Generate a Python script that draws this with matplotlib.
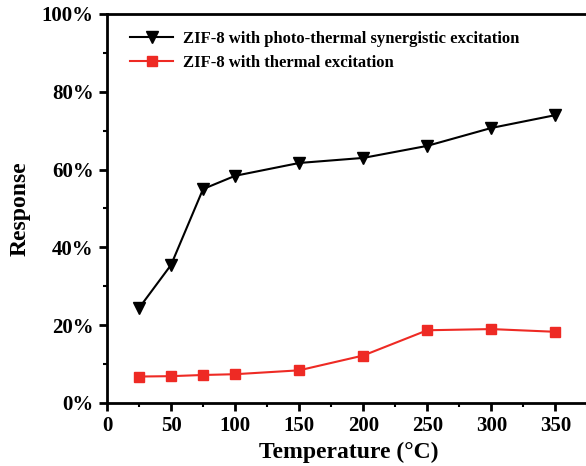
import numpy as np
import matplotlib.pyplot as plt
from matplotlib.ticker import MultipleLocator, PercentFormatter

temps = [25, 50, 75, 100, 150, 200, 250, 300, 350]
photo_thermal = [24.4, 35.5, 55.0, 58.4, 61.7, 63.0, 66.1, 70.7, 74.0]
thermal = [6.8, 6.9, 7.2, 7.4, 8.4, 12.2, 18.7, 19.0, 18.3]

label_photo = "ZIF-8 with photo-thermal synergistic excitation"
label_thermal = "ZIF-8 with thermal excitation"

plt.rcParams['font.family'] = ['Liberation Serif', 'DejaVu Serif']
plt.rcParams['font.weight'] = 'bold'

fig = plt.figure(figsize=(5.86, 4.66), dpi=100)
# the original picture is cropped on the right, so the right spine sits off-canvas
ax = fig.add_axes([0.1826, 0.1352, 0.8242, 0.8348])

ax.plot(temps, photo_thermal, color='black', marker='v', markersize=8, linewidth=1.5, label=label_photo)
ax.plot(temps, thermal, color='#ee2a24', marker='s', markersize=7, linewidth=1.5, label=label_thermal)

ax.set_xlim(0, 377)
ax.set_ylim(0, 100)
ax.xaxis.set_major_locator(MultipleLocator(50))
ax.xaxis.set_minor_locator(MultipleLocator(25))
ax.yaxis.set_major_locator(MultipleLocator(20))
ax.yaxis.set_minor_locator(MultipleLocator(10))
ax.yaxis.set_major_formatter(PercentFormatter(decimals=0))

ax.tick_params(which='major', direction='out', length=6, width=2, labelsize=15)
ax.tick_params(which='minor', direction='out', length=3, width=1.5)
for lbl in ax.get_xticklabels() + ax.get_yticklabels():
    lbl.set_fontweight('bold')
for s in ax.spines.values():
    s.set_linewidth(2)

ax.set_xlabel("Temperature (\u00b0C)", fontsize=17, fontweight='bold', labelpad=4)
ax.set_ylabel("Response", fontsize=17, fontweight='bold', labelpad=8)

leg = ax.legend(loc='upper left', frameon=False, fontsize=12, handlelength=2.6,
                handletextpad=0.6, borderaxespad=0.4, labelspacing=0.45,
                bbox_to_anchor=(0.02, 0.99))
for t in leg.get_texts():
    t.set_fontweight('bold')

fig.savefig("out.png", dpi=100)
